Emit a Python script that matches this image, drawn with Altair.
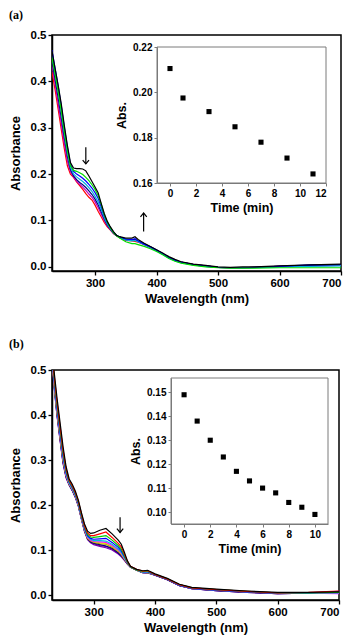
import altair as alt
import pandas as pd

FONT = "Liberation Sans"

# ---------------- panel (a): spectra ----------------
WL_A = [230, 235, 240, 245, 250, 255, 260, 265, 270, 275, 280, 285, 290, 295, 300,
        305, 310, 315, 320, 325, 330, 335, 340,
        350, 360, 365, 370, 380, 390, 400, 410, 420, 430, 440,
        460, 480, 500, 520, 540, 560, 600, 650, 700]

A_BLACK = [.465, .428, .392, .352, .305, .262, .225, .213, .212, .212, .211, .207, .196, .184, .172,
           .160, .137, .115, .098, .086, .076, .068, .065,
           .062, .062, .065, .059, .051, .044, .037, .030, .022, .016, .011,
           .006, .003, .000, -.001, .000, .000, .002, .004, .006]
A_GREEN = [.452, .415, .378, .337, .292, .250, .218, .208, .206, .203, .199, .193, .186, .177, .167,
           .154, .135, .112, .096, .084, .074, .067, .062,
           .054, .050, .050, .048, .044, .039, .033, .026, .018, .012, .008,
           .003, .000, -.002, -.003, -.003, -.003, -.002, -.002, -.002]
A_BLUE = [.467, .428, .390, .348, .301, .258, .222, .206, .200, .196, .191, .185, .178, .170, .160,
          .148, .130, .110, .095, .084, .075, .068, .064,
          .060, .059, .061, .056, .049, .043, .036, .028, .020, .014, .010,
          .005, .002, -.001, -.002, -.002, -.001, .001, .004, .005]
A_CYAN = [.455, .418, .378, .335, .289, .247, .215, .200, .194, .189, .184, .178, .171, .163, .152,
          .140, .124, .106, .092, .082, .074, .068, .064,
          .058, .056, .057, .054, .048, .042, .035, .027, .019, .013, .009,
          .004, .001, -.001, -.002, -.002, -.002, .000, .001, .002]
A_NAVY = [.445, .405, .365, .322, .278, .238, .210, .196, .188, .182, .177, .171, .164, .156, .146,
          .134, .119, .103, .090, .081, .073, .067, .064,
          .059, .058, .059, .055, .049, .043, .036, .028, .020, .014, .010,
          .005, .002, -.001, -.002, -.002, -.001, .001, .003, .004]
A_MAGENTA = [.435, .395, .352, .310, .266, .228, .205, .194, .185, .178, .172, .165, .157, .150, .140,
             .128, .114, .100, .088, .080, .072, .067, .063,
             .058, .057, .058, .054, .048, .042, .035, .027, .019, .013, .009,
             .004, .001, -.001, -.002, -.002, -.001, .001, .003, .004]
A_RED = [.420, .382, .340, .297, .255, .218, .200, .193, .183, .175, .167, .158, .150, .144, .133,
         .120, .108, .096, .086, .079, .072, .067, .063,
         .057, .056, .055, .053, .048, .042, .035, .028, .020, .014, .010,
         .005, .002, -.001, -.002, -.002, -.001, .001, .002, .003]

CURVES_A = [  # drawn first -> last
    ("#ff0000", A_RED), ("#c000c0", A_MAGENTA), ("#000080", A_NAVY),
    ("#00b0e0", A_CYAN), ("#0000ff", A_BLUE), ("#00e000", A_GREEN), ("#000000", A_BLACK),
]

# inset (a)
T_A = [0, 1, 3, 5, 7, 9, 11]
ABS_A = [0.2105, 0.1975, 0.1915, 0.1848, 0.178, 0.171, 0.164]

# arrows (a)
ARROW_A_DOWN = {"wl": [285], "y0": [0.258], "y1": [0.222]}
ARROW_A_UP = {"wl": [379], "y0": [0.076], "y1": [0.116]}

# ---------------- panel (b): spectra ----------------
WL_B = [232, 236, 240, 245, 250, 255, 260, 265, 270, 275, 280, 285, 290, 295, 300,
        310, 320, 330, 340, 345, 350, 355, 360,
        370, 380, 388, 400, 420, 440, 460,
        500, 550, 600, 650, 700]

B0 = [.540, .490, .440, .385, .330, .285, .258, .246, .231, .211, .183, .158, .142, .137, .138,
      .144, .148, .136, .122, .113, .095, .076, .064, .057, .054, .055, .047, .037, .024, .017,
      .013, .009, .006, .006, .007]
B1 = [.535, .482, .431, .376, .322, .280, .255, .243, .228, .208, .180, .154, .138, .132, .132,
      .136, .140, .128, .115, .107, .091, .075, .064, .057, .053, .054, .046, .036, .023, .016,
      .012, .008, .005, .006, .009]
B2 = [.531, .477, .425, .370, .316, .276, .253, .241, .226, .206, .177, .152, .135, .129, .128,
      .130, .132, .122, .110, .102, .088, .073, .063, .056, .052, .053, .046, .036, .023, .016,
      .012, .008, .005, .005, .006]
B3 = [.527, .472, .419, .364, .310, .272, .251, .239, .224, .204, .175, .149, .132, .126, .124,
      .125, .126, .117, .106, .098, .086, .072, .063, .056, .052, .052, .045, .035, .022, .015,
      .011, .007, .004, .005, .008]
B4 = [.524, .468, .414, .359, .306, .269, .249, .237, .222, .202, .173, .147, .130, .124, .121,
      .121, .120, .113, .102, .095, .083, .072, .063, .056, .051, .051, .045, .035, .022, .015,
      .011, .007, .004, .005, .005]
B5 = [.522, .465, .411, .356, .303, .267, .248, .236, .221, .201, .172, .146, .128, .122, .119,
      .118, .117, .110, .100, .093, .082, .071, .063, .056, .051, .051, .045, .035, .022, .015,
      .011, .007, .004, .004, .003]
B6 = [.521, .463, .409, .354, .300, .266, .247, .235, .220, .200, .171, .145, .127, .121, .118,
      .116, .114, .108, .098, .091, .081, .071, .062, .055, .051, .050, .045, .035, .022, .015,
      .011, .007, .004, .004, .005]
B7 = [.520, .461, .407, .352, .299, .265, .247, .235, .220, .200, .171, .144, .126, .120, .117,
      .114, .113, .106, .097, .090, .080, .070, .062, .055, .051, .050, .045, .035, .022, .015,
      .011, .007, .004, .004, .004]
B8 = [.518, .459, .404, .349, .296, .263, .245, .233, .218, .198, .170, .143, .125, .118, .115,
      .112, .109, .104, .094, .088, .079, .070, .062, .055, .050, .050, .044, .034, .021, .014,
      .010, .006, .003, .004, .007]
B9 = [.517, .457, .402, .347, .294, .262, .245, .233, .218, .198, .169, .142, .124, .117, .114,
      .110, .108, .102, .093, .087, .078, .069, .062, .055, .050, .049, .044, .034, .021, .014,
      .010, .006, .003, .004, .004]
B10 = [.515, .455, .400, .345, .292, .260, .244, .232, .217, .197, .168, .141, .123, .116, .112,
       .108, .105, .100, .091, .085, .077, .069, .062, .055, .050, .049, .044, .034, .021, .014,
       .010, .006, .003, .004, .005]

CURVES_B = [  # drawn first -> last
    ("#6a00c8", B10), ("#800080", B9), ("#000080", B8), ("#808000", B7), ("#e0e000", B6),
    ("#ff00ff", B5), ("#00c0e0", B4), ("#0000ff", B3), ("#00d000", B2), ("#ff0000", B1),
    ("#000000", B0),
]

# inset (b)
T_B = [0, 1, 2, 3, 4, 5, 6, 7, 8, 9, 10]
ABS_B = [0.149, 0.138, 0.130, 0.123, 0.117, 0.113, 0.110, 0.108, 0.104, 0.102, 0.099]

ARROW_B_DOWN = {"wl": [343], "y0": [0.173], "y1": [0.139]}

DOWN_HEAD = "M-1,-1.2L0,0L1,-1.2"
UP_HEAD = "M-1,1.2L0,0L1,1.2"


def panel(label, title_offset, wl, curves, x_dom, y_dom, W, H,
          t, absv, t_dom, a_dom, t_vals, a_vals, inset_x, inset_y, arrows):
    xs = alt.Scale(domain=x_dom, nice=False, zero=False)
    ys = alt.Scale(domain=y_dom, nice=False, zero=False)
    x_axis = alt.Axis(values=[300, 400, 500, 600, 700], format="d", tickSize=4,
                      tickWidth=1.3, domainWidth=1.5, labelFontSize=11.5, titleFontSize=13,
                      labelPadding=2, titlePadding=4, domainColor="black", tickColor="black")
    y_axis = alt.Axis(values=[0, 0.1, 0.2, 0.3, 0.4, 0.5], format=".1f", tickSize=4,
                      tickWidth=1.3, domainWidth=1.5, labelFontSize=11.5, titleFontSize=13,
                      labelPadding=2, titlePadding=8, domainColor="black", tickColor="black")

    def X(f):
        return alt.X(f, type="quantitative", scale=xs, axis=x_axis, title="Wavelength (nm)")

    def Y(f):
        return alt.Y(f, type="quantitative", scale=ys, axis=y_axis, title="Absorbance")

    layers = []
    for color, vals in curves:
        df = pd.DataFrame({"wl": wl, "a": vals})
        layers.append(alt.Chart(df).mark_line(color=color, strokeWidth=1.2, clip=True)
                      .encode(x=X("wl"), y=Y("a")))
    for arr, head in arrows:
        df = pd.DataFrame(arr)
        layers.append(alt.Chart(df).mark_rule(color="black", strokeWidth=1.2)
                      .encode(x=X("wl"), y=Y("y0"), y2="y1"))
        layers.append(alt.Chart(df).mark_point(shape=head, filled=False, color="black",
                                               strokeWidth=1.2, size=40, opacity=1)
                      .encode(x=X("wl"), y=Y("y1")))
    main = alt.layer(*layers)

    ix0, ix1 = inset_x
    iy_top, iy_bot = inset_y
    ts = alt.Scale(domain=t_dom, range=[ix0, ix1], nice=False, zero=False)
    as_ = alt.Scale(domain=a_dom, range=[iy_bot, iy_top], nice=False, zero=False)
    t_axis = alt.Axis(orient="bottom", offset=-(H - iy_bot), values=t_vals, format="d",
                      tickSize=3, labelFontSize=10, titleFontSize=12.5, labelPadding=2,
                      titlePadding=3, domainColor="#7a7a7a", tickColor="#7a7a7a",
                      domainWidth=1, tickWidth=1)
    a_axis = alt.Axis(orient="left", offset=-ix0, values=a_vals, format=".2f",
                      tickSize=3, labelFontSize=10, titleFontSize=12.5, labelPadding=2,
                      titlePadding=4, domainColor="#7a7a7a", tickColor="#7a7a7a",
                      domainWidth=1, tickWidth=1)

    def TX(f):
        return alt.X(f, type="quantitative", scale=ts, axis=t_axis, title="Time (min)")

    def AY(f):
        return alt.Y(f, type="quantitative", scale=as_, axis=a_axis, title="Abs.")

    pts = alt.Chart(pd.DataFrame({"t": t, "v": absv})).mark_square(
        color="black", size=26, opacity=1).encode(x=TX("t"), y=AY("v"))
    frame_df = pd.DataFrame({"t0": [t_dom[0]], "t1": [t_dom[1]],
                             "a0": [a_dom[0]], "a1": [a_dom[1]]})
    frame = alt.Chart(frame_df).mark_rect(fillOpacity=0, stroke="#7a7a7a", strokeWidth=1).encode(
        x=TX("t0"), x2="t1", y=AY("a0"), y2="a1")
    inset = alt.layer(frame, pts)

    return alt.layer(main, inset).resolve_scale(x="independent", y="independent").properties(
        width=W, height=H,
        title=alt.TitleParams(label, anchor="start", font="Liberation Serif", fontSize=12,
                              fontWeight="bold", offset=title_offset, color="black"))


pa = panel("(a)", 7, WL_A, CURVES_A, [230, 700], [-0.009, 0.5], 289, 236,
           T_A, ABS_A, [-1, 12], [0.16, 0.22], [0, 2, 4, 6, 8, 10, 12],
           [0.16, 0.18, 0.20, 0.22], (105, 274), (12, 148),
           [(ARROW_A_DOWN, DOWN_HEAD), (ARROW_A_UP, UP_HEAD)])

pb = panel("(b)", 13, WL_B, CURVES_B, [232, 700], [-0.011, 0.5], 287, 230,
           T_B, ABS_B, [-1, 11], [0.095, 0.156], [0, 2, 4, 6, 8, 10],
           [0.10, 0.11, 0.12, 0.13, 0.14, 0.15], (119, 276), (8, 154),
           [(ARROW_B_DOWN, DOWN_HEAD)])

chart = alt.vconcat(pa, pb, spacing=30).properties(padding=0).configure_view(
    stroke="black", strokeWidth=1.5
).configure_axis(
    grid=False, labelFont=FONT, titleFont=FONT, labelColor="black", titleColor="black",
    labelFontWeight="bold", titleFontWeight="bold"
).configure_title(font="Liberation Serif")

chart.save("out.html", embed_options={"renderer": "svg", "actions": False})
